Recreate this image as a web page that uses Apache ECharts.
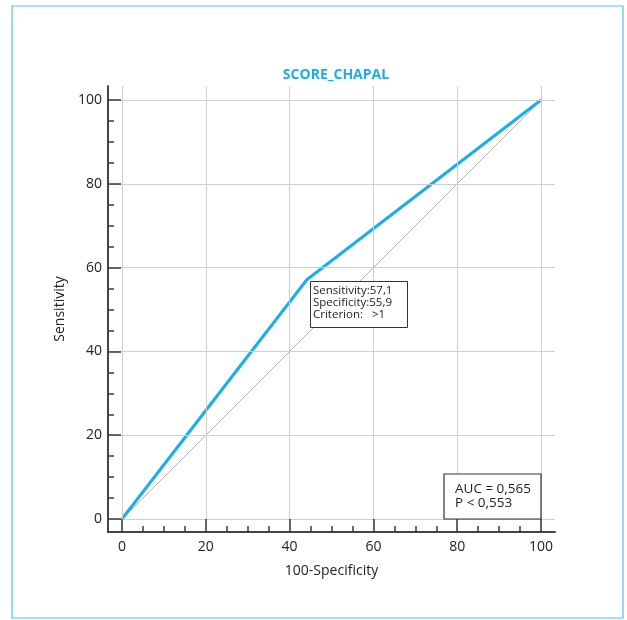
<!DOCTYPE html>
<html>
<head>
<meta charset="utf-8">
<script src="https://cdn.jsdelivr.net/npm/echarts@6/dist/echarts.min.js"></script>
<style>html,body{margin:0;padding:0;background:#fff;}#c{width:627px;height:620px;}</style>
</head>
<body>
<div id="c"></div>
<script>
const titleText = 'SCORE_CHAPAL';
const xName = '100-Specificity';
const yName = 'Sensitivity';
const rocX = [0, 44.1, 100];
const rocY = [0, 57.1, 100];
const refX = [0, 100];
const refY = [0, 100];
const majorTicks = [0, 20, 40, 60, 80, 100];
const minorTicks = [5, 10, 15, 25, 30, 35, 45, 50, 55, 65, 70, 75, 85, 90, 95];
const criterionPoint = [44.1, 57.1];
const criterionLines = ['Sensitivity:57,1', 'Specificity:55,9', 'Criterion:   >1'];
const aucLines = ['AUC = 0,565', 'P < 0,553'];

const FONT = '"Open Sans", "Noto Sans", sans-serif';
const AXC = '#3a3a3a';
const GRID = '#cfcfcf';

function mkAxis(type, major, extra) {
  const base = {
    type: 'value',
    position: type === 'x' ? 'bottom' : 'left',
    z: 10,
    min: type === 'x' ? -3.34 : -3.1,
    max: 103.34,
    axisLine: { show: true, onZero: false, lineStyle: { color: AXC, width: 1.5 } },
    axisTick: { show: true, inside: true, length: major ? 13 : 6, customValues: major ? majorTicks : minorTicks, lineStyle: { color: AXC, width: 1.5 } },
    axisLabel: { show: major, customValues: majorTicks, color: '#222', fontSize: 14, fontFamily: FONT, margin: type === 'x' ? 8 : 6 },
    splitLine: { show: false }
  };
  return Object.assign(base, extra || {});
}

const chart = echarts.init(document.getElementById('c'), null, { renderer: 'canvas' });
const xAxisMajor = mkAxis('x', true, {
  name: xName, nameLocation: 'middle', nameGap: 32,
  nameTextStyle: { color: '#222', fontSize: 14, fontFamily: FONT }
});
const yAxisMajor = mkAxis('y', true, {
  name: yName, nameLocation: 'middle', nameGap: 36,
  nameTextStyle: { color: '#222', fontSize: 14, fontFamily: FONT }
});

chart.setOption({
  animation: false,
  title: {
    text: titleText, left: 331, top: 63, textAlign: 'center',
    textStyle: { color: '#19aee8', fontSize: 14, fontWeight: 'bold', fontFamily: FONT }
  },
  grid: { left: 108, top: 86, right: 72, bottom: 88 },
  xAxis: [xAxisMajor, mkAxis('x', false)],
  yAxis: [yAxisMajor, mkAxis('y', false)],
  series: [
    {
      type: 'line', xAxisIndex: 0, yAxisIndex: 0, silent: true, symbol: 'none', z: 1,
      data: [],
      markLine: {
        silent: true, symbol: 'none', label: { show: false },
        lineStyle: { color: GRID, width: 1, type: 'solid' },
        data: majorTicks.map(v => ({ xAxis: v })).concat(majorTicks.map(v => ({ yAxis: v })))
      }
    },
    {
      type: 'line', xAxisIndex: 0, yAxisIndex: 0, silent: true, symbol: 'none', z: 2,
      lineStyle: { color: '#b5b5b5', width: 1 },
      data: refX.map((x, i) => [x, refY[i]])
    },
    {
      type: 'line', xAxisIndex: 0, yAxisIndex: 0, silent: true, symbol: 'none', z: 3,
      lineStyle: { color: '#1aaeea', width: 3 },
      data: rocX.map((x, i) => [x, rocY[i]])
    }
  ]
});

const cp = chart.convertToPixel({ gridIndex: 0 }, criterionPoint);
const p100 = chart.convertToPixel({ gridIndex: 0 }, [100, 0]);

chart.setOption({
  graphic: [
    { type: 'rect', shape: { x: 12, y: 6, width: 611, height: 612 }, style: { fill: 'none', stroke: '#4dc0ee', lineWidth: 1.2 }, silent: true, z: 0 },
    { type: 'rect', shape: { x: Math.round(cp[0]) + 3.5, y: Math.round(cp[1]) + 1.5, width: 97, height: 46 },
      style: { fill: '#fff', stroke: '#333', lineWidth: 1 }, z: 20 },
    { type: 'text', left: Math.round(cp[0]) + 6, top: Math.round(cp[1]) + 5,
      style: { text: criterionLines.join('\n'), fill: '#222', font: '11.5px ' + FONT, lineHeight: 12 }, z: 21 },
    { type: 'rect', shape: { x: p100[0] - 97, y: p100[1] - 45, width: 97, height: 45 },
      style: { fill: '#fff', stroke: '#333', lineWidth: 1.2 }, z: 20 },
    { type: 'text', left: p100[0] - 86, top: p100[1] - 37,
      style: { text: aucLines.join('\n'), fill: '#222', font: '13.5px ' + FONT, lineHeight: 14 }, z: 21 }
  ]
});
</script>
</body>
</html>
